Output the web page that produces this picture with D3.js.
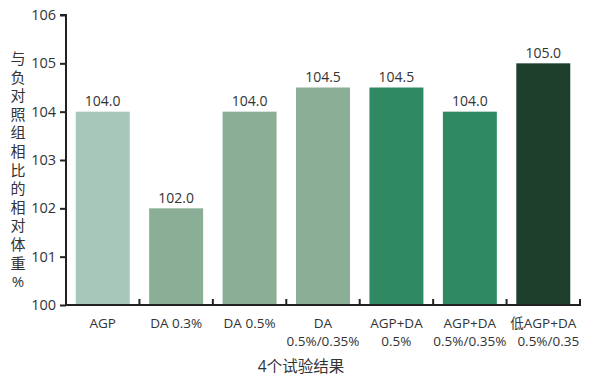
<!DOCTYPE html>
<html>
<head>
<meta charset="utf-8">
<script src="https://cdn.jsdelivr.net/npm/d3@7"></script>
<style>
  html, body { margin: 0; padding: 0; background: #fff; }
  svg text { font-family: "Open Sans", "Noto Sans", "Noto Sans CJK SC", sans-serif; fill: #333; }
</style>
</head>
<body>
<svg id="chart" width="600" height="380"></svg>
<script>
// Trial groups (two-line labels), relative body weight and bar colours
const categories = ["AGP", "DA 0.3%", "DA 0.5%", "DA 0.5%/0.35%", "AGP+DA 0.5%", "AGP+DA 0.5%/0.35%", "低AGP+DA 0.5%/0.35"];
const labelLines = [["AGP"], ["DA 0.3%"], ["DA 0.5%"], ["DA", "0.5%/0.35%"], ["AGP+DA", "0.5%"], ["AGP+DA", "0.5%/0.35%"], ["低AGP+DA", "0.5%/0.35"]];
const values = [104.0, 102.0, 104.0, 104.5, 104.5, 104.0, 105.0];
const colors = ["#a7c7bb", "#8aae96", "#8aae96", "#8aae96", "#2f8a63", "#2f8a63", "#1e3f2c"];
const yTicks = [100, 101, 102, 103, 104, 105, 106];
const yTitle = "与负对照组相比的相对体重%";
const xTitle = "4个试验结果";

const svg = d3.select("#chart");
const plotLeft = 66, plotRight = 580, plotTop = 15, plotBottom = 305;

const x = d3.scaleBand().domain(categories).range([plotLeft, plotRight]).padding(0);
const y = d3.scaleLinear().domain([100, 106]).range([plotBottom, plotTop]);
const barW = x.bandwidth() * 0.735;

// Bars
svg.append("g").selectAll("rect")
  .data(categories)
  .join("rect")
  .attr("x", (d) => x(d) + (x.bandwidth() - barW) / 2)
  .attr("y", (d, i) => y(values[i]))
  .attr("width", barW)
  .attr("height", (d, i) => y(100) - y(values[i]))
  .attr("fill", (d, i) => colors[i]);

// Value labels
svg.append("g").selectAll("text")
  .data(categories)
  .join("text")
  .attr("x", (d) => x(d) + x.bandwidth() / 2)
  .attr("y", (d, i) => y(values[i]) - 5.5)
  .attr("text-anchor", "middle")
  .style("font-size", "14px")
  .text((d, i) => values[i].toFixed(1));

// Y axis
const yAxis = svg.append("g")
  .attr("transform", `translate(${plotLeft},0)`)
  .call(d3.axisLeft(y).tickValues(yTicks).tickSize(6).tickPadding(4).tickFormat(d3.format("d")));
yAxis.select(".domain").attr("stroke", "#222").attr("stroke-width", 2).attr("d", `M-6,${plotTop}H0V${plotBottom}`);
yAxis.selectAll(".tick line").attr("stroke", "#222").attr("stroke-width", 2);
yAxis.selectAll(".tick text").style("font-size", "14.5px").attr("fill", "#333");

// X axis: baseline with short upward ticks at band boundaries
const xAxis = svg.append("g");
xAxis.append("line")
  .attr("x1", plotLeft - 1).attr("x2", plotRight + 1)
  .attr("y1", plotBottom).attr("y2", plotBottom)
  .attr("stroke", "#222").attr("stroke-width", 2);
xAxis.selectAll("line.tick")
  .data(categories)
  .join("line")
  .attr("class", "tick")
  .attr("x1", (d) => x(d) + x.bandwidth())
  .attr("x2", (d) => x(d) + x.bandwidth())
  .attr("y1", plotBottom).attr("y2", plotBottom - 6)
  .attr("stroke", "#222").attr("stroke-width", 2);

// Category labels
const cat = svg.append("g").selectAll("text")
  .data(categories)
  .join("text")
  .attr("text-anchor", "middle")
  .style("font-size", "13.5px");
cat.each(function (d, i) {
  const t = d3.select(this);
  labelLines[i].forEach((line, j) => {
    t.append("tspan")
      .attr("x", x(d) + x.bandwidth() / 2 + (i === 6 && j === 1 ? 5 : 0))
      .attr("y", 328 + j * 18)
      .text(line);
  });
});

// Y axis title, stacked vertically
svg.append("g").selectAll("text")
  .data(Array.from(yTitle))
  .join("text")
  .attr("x", 18)
  .attr("y", (d, i) => 64 + i * 18.6)
  .attr("text-anchor", "middle")
  .style("font-size", "15px")
  .text((d) => d);

// X axis title
svg.append("text")
  .attr("x", 301)
  .attr("y", 372)
  .attr("text-anchor", "middle")
  .style("font-size", "15.5px")
  .text(xTitle);
</script>
</body>
</html>
